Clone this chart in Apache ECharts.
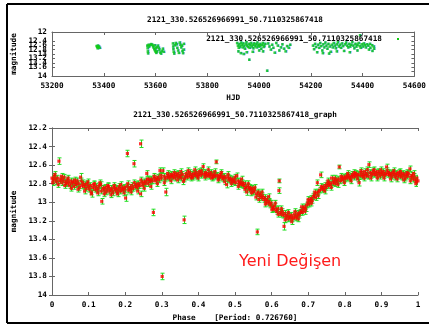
<!DOCTYPE html>
<html>
<head>
<meta charset="utf-8">
<script src="https://cdn.jsdelivr.net/npm/echarts@6/dist/echarts.min.js"></script>
<style>
html, body { margin: 0; padding: 0; background: #fff; }
#chart { width: 429px; height: 327px; }
</style>
</head>
<body>
<div id="chart"></div>
<script>
var starName = '2121_330.526526966991_50.7110325867418';
var periodText = 'Phase    [Period: 0.726760]';
var stampText = 'Yeni Değişen';

var hjdRange = [53200, 54600, 200];
var topMagRange = [12, 14, 0.2];
var phaseRange = [0, 1, 0.1];
var phaseMagRange = [12.2, 14, 0.2];

var defaultErr = 0.03;

// HJD, magnitude (upper panel)
var hjdSeries = [
    [53372, 12.64], [53375, 12.68], [53377, 12.62], [53379, 12.70], [53381, 12.66], [53384, 12.72], [53376, 12.74],
    [53568, 12.62], [53569, 12.74], [53570, 12.88], [53571, 12.97], [53573, 12.58], [53575, 12.66], [53577, 12.60],
    [53583, 12.55], [53587, 12.58], [53590, 12.64], [53592, 12.70], [53595, 12.78], [53598, 12.84], [53600, 12.90],
    [53603, 12.95], [53606, 12.88], [53609, 12.62], [53612, 12.72], [53615, 12.80], [53618, 12.93], [53621, 12.98],
    [53625, 12.86], [53628, 12.76], [53631, 12.90], [53596, 12.60], [53604, 12.68], [53601, 12.74],
    [53667, 12.52], [53668, 12.66], [53669, 12.78], [53670, 12.90], [53672, 12.98], [53675, 12.60], [53678, 12.50],
    [53681, 12.56], [53684, 12.72], [53687, 12.84], [53690, 12.95], [53693, 12.48], [53696, 12.58], [53699, 12.70],
    [53702, 12.62], [53704, 12.86], [53706, 12.96], [53708, 12.80], [53709, 12.54],
    [53915, 12.50], [53918, 12.62], [53921, 12.72], [53924, 12.55], [53927, 12.66], [53930, 12.48], [53933, 12.58],
    [53936, 12.70], [53939, 12.52], [53942, 12.64], [53945, 12.76], [53948, 12.56], [53951, 12.46], [53954, 12.62],
    [53957, 12.68], [53960, 12.54], [53963, 12.72], [53966, 12.60], [53969, 12.50], [53972, 12.66], [53975, 12.58],
    [53978, 12.74], [53981, 12.52], [53984, 12.64], [53987, 12.56], [53990, 12.70], [53993, 12.48], [53996, 12.60],
    [53999, 12.66], [54002, 12.54], [54005, 12.62], [54008, 12.76], [54011, 12.58], [54014, 12.50], [54017, 12.68],
    [54020, 12.62], [54024, 12.54], [53920, 12.88], [53929, 12.96], [53940, 13.00], [53952, 12.92], [53962, 13.26],
    [53975, 12.90], [54000, 12.84], [54015, 12.88],
    [54031, 13.76],
    [54035, 12.52], [54040, 12.66], [54045, 12.80], [54050, 12.58], [54055, 12.72], [54060, 12.94], [54066, 12.50],
    [54072, 12.62], [54078, 12.84], [54084, 12.70], [54090, 12.56], [54096, 12.76], [54102, 12.88], [54108, 12.64],
    [54114, 12.72], [54120, 12.58],
    [54208, 12.62], [54212, 12.78], [54216, 12.54], [54220, 12.68], [54224, 12.92], [54228, 12.58], [54232, 12.72],
    [54236, 12.50], [54240, 12.64], [54244, 12.84], [54248, 12.56], [54252, 12.70], [54256, 12.48], [54260, 12.62],
    [54264, 12.76], [54268, 12.54], [54272, 12.66], [54276, 12.90], [54280, 12.58], [54284, 12.70], [54288, 12.50],
    [54292, 12.62], [54296, 12.74], [54300, 12.56], [54304, 12.46], [54308, 12.66], [54312, 12.58], [54316, 12.72],
    [54320, 12.52], [54324, 12.64], [54328, 12.86], [54332, 12.56], [54336, 12.48], [54340, 12.62], [54344, 12.70],
    [54348, 12.54], [54352, 12.66], [54356, 12.58], [54360, 12.46], [54364, 12.62], [54368, 12.74], [54372, 12.54],
    [54376, 12.66], [54380, 12.58], [54384, 12.50], [54390, 12.15], [54388, 12.64], [54392, 12.72], [54396, 12.56],
    [54400, 12.66], [54404, 12.52], [54408, 12.60], [54412, 12.70], [54416, 12.56], [54422, 12.62], [54424, 12.80],
    [54428, 12.54], [54430, 12.72], [54436, 12.60], [54438, 12.86], [54442, 12.66], [54444, 12.76], [54246, 12.96],
    [54270, 12.98], [54300, 12.88], [54350, 12.92], [54380, 12.84]
];

// phase, magnitude, optional error (lower panel)
var phaseSeries = [
    [0.000, 12.74], [0.003, 12.76], [0.006, 12.72], [0.009, 12.75], [0.012, 12.78], [0.015, 12.74], [0.019, 12.557, 0.035],
    [0.021, 12.77], [0.024, 12.75], [0.027, 12.79], [0.030, 12.76], [0.033, 12.73], [0.036, 12.78], [0.039, 12.80],
    [0.042, 12.76], [0.045, 12.79], [0.048, 12.82], [0.051, 12.77], [0.054, 12.80], [0.057, 12.78], [0.060, 12.83],
    [0.063, 12.79], [0.066, 12.81], [0.069, 12.77], [0.072, 12.80], [0.075, 12.84], [0.078, 12.73, 0.04], [0.081, 12.82],
    [0.084, 12.79], [0.087, 12.83], [0.090, 12.81], [0.093, 12.85], [0.096, 12.80], [0.099, 12.83], [0.102, 12.86],
    [0.105, 12.82], [0.108, 12.91, 0.035], [0.111, 12.84], [0.114, 12.81], [0.117, 12.86], [0.120, 12.83], [0.123, 12.87],
    [0.126, 12.85], [0.129, 12.82], [0.131, 12.79], [0.134, 12.88], [0.136, 12.99, 0.03], [0.139, 12.85], [0.142, 12.87],
    [0.145, 12.84], [0.148, 12.89], [0.151, 12.86], [0.154, 12.83], [0.157, 12.88], [0.160, 12.85], [0.163, 12.87],
    [0.166, 12.90], [0.169, 12.84], [0.172, 12.87], [0.175, 12.85], [0.178, 12.89], [0.181, 12.86], [0.184, 12.83],
    [0.187, 12.88], [0.190, 12.85], [0.193, 12.87], [0.196, 12.84], [0.199, 12.86], [0.201, 12.955, 0.035], [0.204, 12.83],
    [0.206, 12.475, 0.035], [0.209, 12.87], [0.212, 12.84], [0.215, 12.86], [0.218, 12.82], [0.221, 12.85],
    [0.224, 12.585, 0.035], [0.227, 12.83], [0.230, 12.81], [0.233, 12.84], [0.236, 12.80], [0.239, 12.82],
    [0.242, 12.37, 0.04], [0.242, 12.91, 0.03], [0.245, 12.79], [0.248, 12.82], [0.251, 12.78], [0.254, 12.80],
    [0.257, 12.77], [0.259, 12.69, 0.03], [0.262, 12.80], [0.265, 12.76], [0.268, 12.78], [0.271, 12.75], [0.274, 12.77],
    [0.277, 13.11, 0.035], [0.280, 12.74], [0.283, 12.77], [0.286, 12.75], [0.289, 12.73], [0.292, 12.76],
    [0.295, 12.66, 0.03], [0.298, 12.74], [0.301, 13.80, 0.035], [0.303, 12.66, 0.03], [0.306, 12.72], [0.309, 12.75],
    [0.311, 12.89, 0.04], [0.314, 12.73], [0.317, 12.71], [0.320, 12.74], [0.323, 12.72], [0.326, 12.70], [0.329, 12.73],
    [0.332, 12.71], [0.335, 12.74], [0.338, 12.70], [0.341, 12.72], [0.344, 12.69], [0.347, 12.73], [0.350, 12.71],
    [0.353, 12.74], [0.356, 12.70], [0.359, 12.775, 0.035], [0.361, 13.19, 0.04], [0.364, 12.72], [0.367, 12.69],
    [0.370, 12.73], [0.373, 12.71], [0.376, 12.68], [0.379, 12.72], [0.382, 12.70], [0.385, 12.73], [0.388, 12.69],
    [0.391, 12.71], [0.394, 12.68], [0.397, 12.72], [0.400, 12.70], [0.403, 12.67], [0.406, 12.71], [0.409, 12.69],
    [0.413, 12.616, 0.03], [0.416, 12.70], [0.419, 12.68], [0.422, 12.71], [0.425, 12.69], [0.428, 12.72], [0.431, 12.70],
    [0.434, 12.68], [0.437, 12.71], [0.440, 12.73], [0.443, 12.70], [0.446, 12.72], [0.449, 12.565, 0.02], [0.452, 12.71],
    [0.455, 12.74], [0.458, 12.72], [0.461, 12.70], [0.464, 12.73], [0.467, 12.75], [0.470, 12.72], [0.473, 12.74],
    [0.477, 12.81, 0.035], [0.480, 12.73], [0.483, 12.76], [0.486, 12.74], [0.489, 12.77], [0.492, 12.75], [0.495, 12.78],
    [0.498, 12.76], [0.501, 12.79], [0.505, 12.715], [0.508, 12.77], [0.511, 12.80], [0.514, 12.78], [0.517, 12.81],
    [0.520, 12.79], [0.523, 12.82], [0.526, 12.80], [0.529, 12.84], [0.532, 12.89, 0.035], [0.535, 12.83], [0.538, 12.86],
    [0.541, 12.84], [0.544, 12.87], [0.547, 12.85], [0.550, 12.89], [0.553, 12.87], [0.557, 12.945], [0.559, 12.91],
    [0.561, 13.32, 0.03], [0.563, 12.89], [0.566, 12.93], [0.569, 12.91], [0.572, 12.95], [0.575, 12.93], [0.578, 12.97],
    [0.581, 12.95], [0.584, 12.99], [0.587, 12.97], [0.590, 13.01], [0.593, 12.99], [0.596, 13.03], [0.599, 13.01],
    [0.602, 13.05], [0.605, 13.07], [0.608, 13.04], [0.611, 13.08], [0.614, 13.10], [0.617, 13.07], [0.620, 12.875, 0.03],
    [0.621, 12.77, 0.02], [0.623, 13.11], [0.626, 13.13], [0.629, 13.10], [0.632, 13.14], [0.634, 13.26, 0.04],
    [0.636, 13.12], [0.639, 13.16], [0.642, 13.14], [0.645, 13.18], [0.648, 13.15], [0.651, 13.17], [0.654, 13.14],
    [0.657, 13.18], [0.660, 13.16], [0.663, 13.13], [0.666, 13.17], [0.669, 13.15], [0.672, 13.12], [0.675, 13.14],
    [0.678, 13.11], [0.681, 13.09], [0.684, 13.11], [0.687, 13.07], [0.690, 13.05], [0.693, 13.07], [0.696, 13.03],
    [0.699, 13.00], [0.702, 13.02], [0.705, 12.98], [0.708, 12.96], [0.711, 12.98], [0.714, 12.94], [0.717, 12.92],
    [0.720, 12.95], [0.723, 12.90], [0.725, 12.79, 0.03], [0.728, 12.89], [0.731, 12.87], [0.734, 12.705, 0.03],
    [0.737, 12.86], [0.740, 12.84], [0.743, 12.86], [0.746, 12.82], [0.749, 12.84], [0.752, 12.80], [0.755, 12.82],
    [0.758, 12.79], [0.761, 12.81], [0.764, 12.74, 0.03], [0.767, 12.79], [0.770, 12.77], [0.773, 12.80], [0.776, 12.76],
    [0.779, 12.78], [0.782, 12.75], [0.785, 12.62, 0.02], [0.788, 12.77], [0.791, 12.74], [0.794, 12.76], [0.797, 12.73],
    [0.800, 12.75], [0.803, 12.72], [0.806, 12.74], [0.809, 12.71], [0.812, 12.73], [0.815, 12.75], [0.818, 12.72],
    [0.821, 12.70], [0.824, 12.73], [0.827, 12.71], [0.830, 12.69], [0.833, 12.72], [0.836, 12.70], [0.839, 12.79, 0.035],
    [0.842, 12.71], [0.845, 12.68], [0.848, 12.72], [0.851, 12.70], [0.854, 12.67], [0.857, 12.71], [0.860, 12.69],
    [0.863, 12.72], [0.866, 12.595, 0.03], [0.869, 12.68], [0.872, 12.71], [0.875, 12.69], [0.878, 12.66], [0.881, 12.70],
    [0.884, 12.68], [0.887, 12.71], [0.890, 12.67], [0.893, 12.69], [0.896, 12.72], [0.899, 12.68], [0.902, 12.70],
    [0.905, 12.67], [0.908, 12.71], [0.911, 12.69], [0.914, 12.62, 0.03], [0.917, 12.70], [0.920, 12.68], [0.923, 12.71],
    [0.926, 12.69], [0.929, 12.72], [0.932, 12.68], [0.935, 12.70], [0.938, 12.73], [0.941, 12.69], [0.944, 12.71],
    [0.947, 12.68], [0.950, 12.72], [0.953, 12.70], [0.956, 12.73], [0.959, 12.69], [0.962, 12.71], [0.965, 12.74],
    [0.968, 12.70], [0.971, 12.72], [0.974, 12.69], [0.978, 12.64, 0.03], [0.980, 12.73], [0.983, 12.71], [0.986, 12.75],
    [0.989, 12.72], [0.992, 12.76], [0.994, 12.80, 0.03], [0.997, 12.74], [1.000, 12.77],
    // second night, wider scatter
    [0.002, 12.79], [0.008, 12.70], [0.017, 12.81], [0.026, 12.72], [0.035, 12.82], [0.044, 12.74], [0.053, 12.85],
    [0.062, 12.76], [0.071, 12.86], [0.080, 12.77], [0.089, 12.88], [0.098, 12.78], [0.107, 12.89], [0.116, 12.80],
    [0.125, 12.90], [0.133, 12.81], [0.143, 12.91], [0.152, 12.82], [0.161, 12.92], [0.170, 12.82], [0.179, 12.91],
    [0.188, 12.81], [0.197, 12.90], [0.207, 12.80], [0.216, 12.89], [0.225, 12.79], [0.234, 12.88], [0.243, 12.76],
    [0.252, 12.85], [0.261, 12.75], [0.270, 12.83], [0.279, 12.72], [0.288, 12.80], [0.297, 12.71], [0.307, 12.79],
    [0.316, 12.69], [0.325, 12.77], [0.334, 12.68], [0.343, 12.76], [0.352, 12.67], [0.362, 12.75], [0.372, 12.66],
    [0.381, 12.74], [0.390, 12.65], [0.399, 12.74], [0.408, 12.66], [0.418, 12.73], [0.427, 12.65], [0.436, 12.74],
    [0.445, 12.67], [0.454, 12.76], [0.463, 12.68], [0.472, 12.78], [0.481, 12.70], [0.490, 12.80], [0.500, 12.73],
    [0.509, 12.83], [0.518, 12.75], [0.527, 12.86], [0.536, 12.80], [0.545, 12.90], [0.554, 12.84], [0.565, 12.97],
    [0.574, 12.89], [0.583, 13.02], [0.592, 12.94], [0.601, 13.08], [0.610, 13.01], [0.618, 13.13], [0.627, 13.07],
    [0.637, 13.19], [0.646, 13.11], [0.655, 13.21], [0.664, 13.10], [0.673, 13.18], [0.682, 13.05], [0.691, 13.10],
    [0.700, 12.97], [0.709, 13.01], [0.718, 12.89], [0.727, 12.93], [0.736, 12.83], [0.745, 12.88], [0.754, 12.77],
    [0.763, 12.84], [0.772, 12.74], [0.781, 12.81], [0.790, 12.72], [0.799, 12.79], [0.808, 12.69], [0.817, 12.77],
    [0.826, 12.68], [0.835, 12.75], [0.844, 12.66], [0.853, 12.74], [0.862, 12.65], [0.871, 12.74], [0.880, 12.65],
    [0.889, 12.74], [0.898, 12.65], [0.907, 12.74], [0.916, 12.66], [0.925, 12.75], [0.934, 12.66], [0.943, 12.75],
    [0.952, 12.67], [0.961, 12.76], [0.970, 12.68], [0.979, 12.77], [0.988, 12.69], [0.996, 12.78]
];

var monoFont = {
    fontFamily: 'DejaVu Sans Mono',
    fontWeight: 'bold',
    fontSize: 7.7,
    color: '#000'
};
var frameColor = '#666';

function withErr(rows) {
    return rows.map(function (r) {
        return [r[0], r[1], r.length > 2 ? r[2] : defaultErr];
    });
}

function errorBars(color, capHalf) {
    return function (params, api) {
        var x = api.value(0), y = api.value(1), e = api.value(2);
        var hi = api.coord([x, y - e]);
        var lo = api.coord([x, y + e]);
        var cx = Math.round(hi[0]) + 0.5;
        var st = { stroke: color, lineWidth: 1 };
        return {
            type: 'group',
            children: [
                { type: 'line', shape: { x1: cx, y1: hi[1], x2: cx, y2: lo[1] }, style: st },
                { type: 'line', shape: { x1: cx - capHalf, y1: hi[1], x2: cx + capHalf, y2: hi[1] }, style: st },
                { type: 'line', shape: { x1: cx - capHalf, y1: lo[1], x2: cx + capHalf, y2: lo[1] }, style: st }
            ]
        };
    };
}

function plainNumber(v) {
    return String(+v.toFixed(4));
}

function mainX(grid, range, name, gap) {
    return {
        type: 'value', gridIndex: grid, position: 'bottom',
        min: range[0], max: range[1], interval: range[2],
        name: name, nameLocation: 'middle', nameGap: gap, nameTextStyle: monoFont,
        axisLine: { show: true, lineStyle: { color: frameColor } },
        axisTick: { show: true, inside: true, length: 3, lineStyle: { color: frameColor } },
        axisLabel: Object.assign({ margin: 6, formatter: plainNumber, hideOverlap: false }, monoFont),
        splitLine: { show: false }
    };
}
function mirrorX(grid, range) {
    return {
        type: 'value', gridIndex: grid, position: 'top',
        min: range[0], max: range[1], interval: range[2],
        axisLine: { show: true, lineStyle: { color: frameColor } },
        axisTick: { show: true, inside: true, length: 3, lineStyle: { color: frameColor } },
        axisLabel: { show: false },
        splitLine: { show: false }
    };
}
function mainY(grid, range) {
    return {
        type: 'value', gridIndex: grid, position: 'left', inverse: true,
        min: range[0], max: range[1], interval: range[2],
        name: 'magnitude', nameLocation: 'middle', nameGap: 30, nameTextStyle: monoFont,
        axisLine: { show: true, lineStyle: { color: frameColor } },
        axisTick: { show: true, inside: true, length: 3, lineStyle: { color: frameColor } },
        axisLabel: Object.assign({
            margin: 5, formatter: plainNumber, hideOverlap: false,
            showMinLabel: true, showMaxLabel: true
        }, monoFont),
        splitLine: { show: false }
    };
}
function mirrorY(grid, range) {
    return {
        type: 'value', gridIndex: grid, position: 'right', inverse: true,
        min: range[0], max: range[1], interval: range[2],
        axisLine: { show: true, lineStyle: { color: frameColor } },
        axisTick: { show: true, inside: true, length: 3, lineStyle: { color: frameColor } },
        axisLabel: { show: false },
        splitLine: { show: false }
    };
}

var option = {
    backgroundColor: '#fff',
    animation: false,
    grid: [
        { left: 52, top: 32, width: 366, height: 44 },
        { left: 52, top: 128, width: 366, height: 170 }
    ],
    xAxis: [
        mainX(0, hjdRange, 'HJD', 18),
        mirrorX(0, hjdRange),
        mainX(1, phaseRange, periodText, 19),
        mirrorX(1, phaseRange)
    ],
    yAxis: [
        mainY(0, topMagRange),
        mirrorY(0, topMagRange),
        mainY(1, phaseMagRange),
        mirrorY(1, phaseMagRange)
    ],
    graphic: [
        { type: 'line', shape: { x1: 7, y1: 4, x2: 429, y2: 4 }, style: { stroke: '#000', lineWidth: 2 } },
        { type: 'line', shape: { x1: 7, y1: 4, x2: 7, y2: 323 }, style: { stroke: '#000', lineWidth: 2 } },
        { type: 'line', shape: { x1: 7, y1: 323, x2: 429, y2: 323 }, style: { stroke: '#000', lineWidth: 2 } },
        { type: 'text', x: 235, y: 20, style: Object.assign({ text: starName, textAlign: 'center', textVerticalAlign: 'middle' }, monoFont) },
        { type: 'text', x: 235, y: 115, style: Object.assign({ text: starName + '_graph', textAlign: 'center', textVerticalAlign: 'middle' }, monoFont) },
        { type: 'text', x: 382, y: 39, z: 10, style: Object.assign({ text: starName, textAlign: 'right', textVerticalAlign: 'middle' }, monoFont) },
        { type: 'rect', x: 397, y: 38, z: 10, shape: { width: 2, height: 2 }, style: { fill: '#11cc11' } },
        {
            type: 'text', x: 239, y: 262, z: 10,
            style: { text: stampText, textAlign: 'left', textVerticalAlign: 'middle', fontFamily: 'DejaVu Sans', fontSize: 16, fill: '#ff1a1a' }
        }
    ],
    series: [
        {
            type: 'custom', xAxisIndex: 0, yAxisIndex: 0, clip: true,
            renderItem: errorBars('#2a7fff', 1),
            encode: { x: 0, y: 1 },
            data: withErr(hjdSeries)
        },
        {
            type: 'scatter', xAxisIndex: 0, yAxisIndex: 0, clip: true,
            symbol: 'rect', symbolSize: 2.5,
            itemStyle: { color: '#11cc11' },
            data: hjdSeries
        },
        {
            type: 'custom', xAxisIndex: 2, yAxisIndex: 2, clip: true,
            renderItem: errorBars('#22dd22', 2),
            encode: { x: 0, y: 1 },
            data: withErr(phaseSeries)
        },
        {
            type: 'scatter', xAxisIndex: 2, yAxisIndex: 2, clip: true,
            symbol: 'rect', symbolSize: 3.2,
            itemStyle: { color: '#ff0000' },
            data: phaseSeries.map(function (r) { return [r[0], r[1]]; })
        }
    ]
};

var chart = echarts.init(document.getElementById('chart'), null, { renderer: 'canvas' });
chart.setOption(option);
</script>
</body>
</html>
